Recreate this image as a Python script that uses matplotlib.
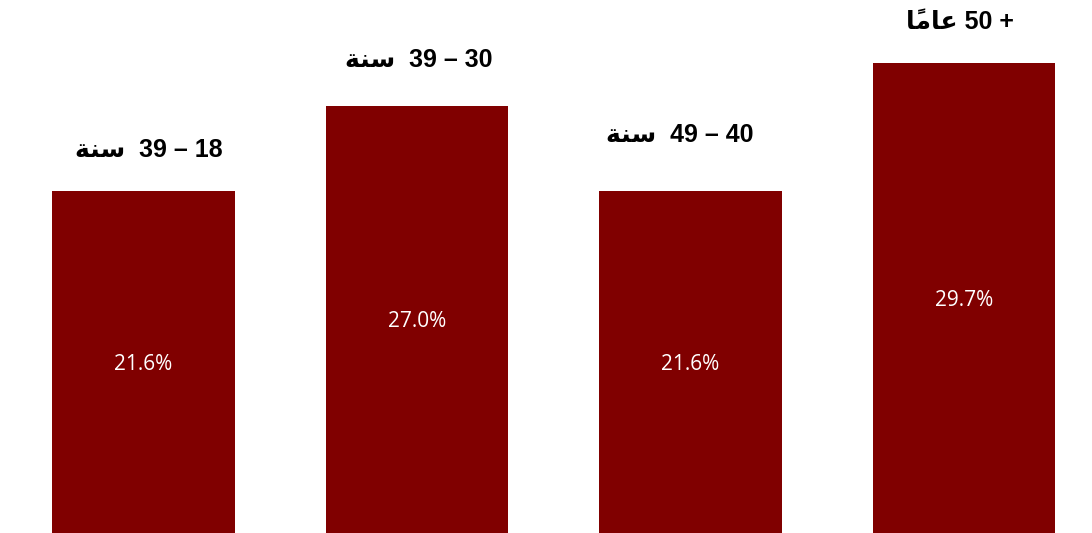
import matplotlib
matplotlib.use("Agg")
import matplotlib.pyplot as plt

# age groups (Arabic written in visual order with presentation forms so it shapes right)
categories = [
    "\uFE94\uFEE8\uFEB3  39 \u2013 18",
    "\uFE94\uFEE8\uFEB3  39 \u2013 30",
    "\uFE94\uFEE8\uFEB3  49 \u2013 40",
    "\uFE8E\u064B\uFEE3\uFE8E\uFECB 50 +",
]
shares = [21.6, 27.0, 21.6, 29.7]

# label nudges in pixels (dx, dy) above each bar top
label_offsets = [(5.5, 41), (1.5, 46), (-11, 56), (-4, 40.5)]

BAR_COLOR = "#800000"

fig = plt.figure(figsize=(10.92, 5.33), dpi=100)
ax = fig.add_axes([0, 0, 1, 1])

x = list(range(len(shares)))
ax.bar(x, shares, width=0.669, color=BAR_COLOR)

px_per_unit = 273.5
ax.set_xlim(-143.5 / px_per_unit, (1092 - 143.5) / px_per_unit)
ax.set_ylim(0, 533 / 15.83)
ax.axis("off")

for xi, val, lab, (dx, dy) in zip(x, shares, categories, label_offsets):
    ax.text(xi, val / 2, f"{val:.1f}%", ha="center", va="center_baseline",
            color="white", fontsize=15, family=["Open Sans", "DejaVu Sans"])
    ax.annotate(lab, xy=(xi, val), xytext=(dx, dy), textcoords="offset pixels",
                ha="center", va="center", fontsize=18, fontweight="bold",
                family=["Liberation Sans", "DejaVu Sans"], color="black")

fig.savefig("out.png", dpi=100)
